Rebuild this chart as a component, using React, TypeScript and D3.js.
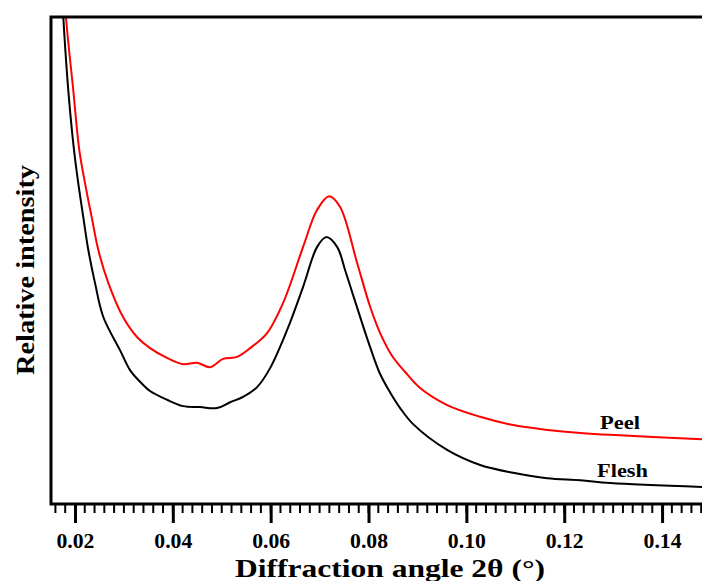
import React, { useEffect, useRef } from 'react';
import * as d3 from 'd3';

// diffraction angle 2θ (°) and relative intensity (arbitrary units, 0 = axis, 100 = top of frame)
const fleshAngle = [0.0170, 0.01761, 0.01863, 0.01980, 0.02067, 0.02170, 0.02272, 0.02409, 0.02579, 0.02920, 0.03125, 0.0333, 0.03534, 0.03881, 0.04209, 0.04556, 0.04904, 0.0517, 0.05436, 0.05722, 0.05988, 0.06335, 0.06663, 0.06949, 0.07133, 0.07358, 0.07522, 0.07685, 0.08033, 0.08237, 0.08442, 0.08646, 0.08912, 0.09607, 0.10282, 0.10957, 0.11652, 0.12327, 0.12941, 0.14823];
const fleshIntensity = [112, 100, 85.0, 72.7, 65.9, 58.9, 52.2, 45.4, 38.4, 31.6, 27.5, 25.1, 23.2, 21.4, 20.1, 19.9, 19.7, 20.9, 22.0, 24.0, 27.9, 35.7, 44.6, 52.8, 54.8, 52.8, 48.0, 42.9, 32.2, 26.7, 22.9, 19.7, 16.4, 11.1, 8.0, 6.4, 5.3, 4.9, 4.3, 3.5];

const peelAngle = [0.0175, 0.01816, 0.01965, 0.02088, 0.02205, 0.02342, 0.02476, 0.02681, 0.02982, 0.03268, 0.03534, 0.03881, 0.04209, 0.04495, 0.04761, 0.05027, 0.05313, 0.05579, 0.05926, 0.06254, 0.06663, 0.06949, 0.07194, 0.07419, 0.07767, 0.08033, 0.08237, 0.08483, 0.08749, 0.09055, 0.09607, 0.10282, 0.10957, 0.11652, 0.12327, 0.12941, 0.14823];
const peelIntensity = [112, 100, 85.0, 72.7, 65.9, 58.9, 52.2, 45.4, 38.4, 34.3, 32.0, 30.0, 28.7, 29.0, 28.1, 29.8, 30.2, 32.0, 35.1, 41.3, 52.8, 60.4, 63.2, 61.0, 49.5, 40.5, 35.1, 30.4, 27.1, 23.8, 20.3, 17.9, 16.2, 15.2, 14.6, 14.2, 13.3];

const majorTicks = [0.02, 0.04, 0.06, 0.08, 0.10, 0.12, 0.14];

const FONT = '"Liberation Serif", "Times New Roman", serif';

function Chart() {
    const ref = useRef<SVGSVGElement>(null);

    useEffect(() => {
        const svg = d3.select(ref.current);
        svg.selectAll('*').remove();

        const left = 51, top = 17, right = 711, bottom = 504;
        const x = d3.scaleLinear().domain([0.0151, 0.1500]).range([left, right]);
        const y = d3.scaleLinear().domain([0, 100]).range([bottom, top]);

        svg.append('defs').append('clipPath').attr('id', 'plotclip')
            .append('rect')
            .attr('x', left).attr('y', top)
            .attr('width', right - left).attr('height', bottom - top);

        const line = d3.line<[number, number]>()
            .x(d => x(d[0]))
            .y(d => y(d[1]))
            .curve(d3.curveCatmullRom.alpha(0.5));

        const plot = svg.append('g').attr('clip-path', 'url(#plotclip)');
        plot.append('path')
            .datum(d3.zip(fleshAngle, fleshIntensity) as [number, number][])
            .attr('d', line)
            .attr('fill', 'none')
            .attr('stroke', '#000')
            .attr('stroke-width', 2);
        plot.append('path')
            .datum(d3.zip(peelAngle, peelIntensity) as [number, number][])
            .attr('d', line)
            .attr('fill', 'none')
            .attr('stroke', '#ff0000')
            .attr('stroke-width', 2);

        // frame
        svg.append('rect')
            .attr('x', left).attr('y', top)
            .attr('width', right - left).attr('height', bottom - top)
            .attr('fill', 'none')
            .attr('stroke', '#000')
            .attr('stroke-width', 3);

        // minor ticks
        const minor = d3.range(16, 151, 2).map(d => d / 1000);
        svg.append('g')
            .selectAll('line')
            .data(minor)
            .enter()
            .append('line')
            .attr('x1', d => x(d)).attr('x2', d => x(d))
            .attr('y1', bottom).attr('y2', bottom + 9)
            .attr('stroke', '#000')
            .attr('stroke-width', 2);

        // major ticks + labels
        const axis = d3.axisBottom(x)
            .tickValues(majorTicks)
            .tickSize(19)
            .tickSizeOuter(0)
            .tickFormat(d3.format('.2f'));
        const ax = svg.append('g')
            .attr('transform', `translate(0,${bottom})`)
            .call(axis);
        ax.select('.domain').remove();
        ax.selectAll('.tick line').attr('stroke-width', 3);
        ax.selectAll('.tick text')
            .attr('y', 44)
            .attr('dy', 0)
            .attr('font-family', FONT)
            .attr('font-weight', 'bold')
            .attr('font-size', 20)
            .attr('textLength', 38)
            .attr('lengthAdjust', 'spacingAndGlyphs')
            .attr('fill', '#000');

        const label = (txt: string, px: number, py: number, size: number, len: number, rot = false) => {
            svg.append('text')
                .attr('transform', rot ? `translate(${px},${py}) rotate(-90)` : `translate(${px},${py})`)
                .attr('text-anchor', 'middle')
                .attr('font-family', FONT)
                .attr('font-weight', 'bold')
                .attr('font-size', size)
                .attr('textLength', len)
                .attr('lengthAdjust', 'spacingAndGlyphs')
                .text(txt);
        };

        label('Diffraction angle 2θ (°)', 390, 577, 25, 310);
        label('Relative intensity', 34, 270, 25, 210, true);
        label('Peel', 620, 429, 19, 40);
        label('Flesh', 622.5, 477, 19, 51);
    }, []);

    return <svg ref={ref} width={702} height={581} style={{ position: 'absolute', left: 0, top: 0, background: '#fff' }} />;
}

export default function App() {
    return <Chart />;
}
